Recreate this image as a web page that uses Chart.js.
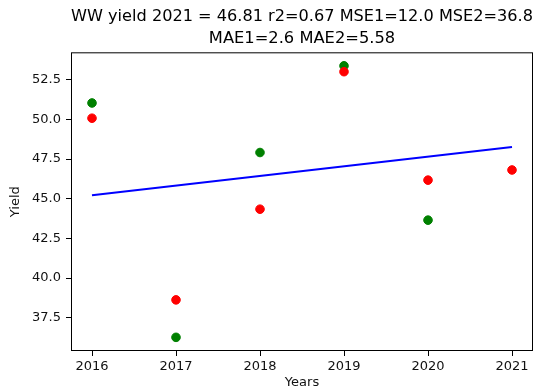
<!DOCTYPE html>
<html>
<head>
<meta charset="utf-8">
<script src="https://cdn.jsdelivr.net/npm/chart.js@4/dist/chart.umd.min.js"></script>
<style>
  html, body { margin: 0; padding: 0; background: #fff; }
  canvas { display: block; }
</style>
</head>
<body>
<canvas id="yieldChart" width="539" height="392"></canvas>
<script>
// values
const years = [2016, 2017, 2018, 2019, 2020, 2021];
const greenYears = [2016, 2017, 2018, 2019, 2020];
const greenYield = [51.03, 36.27, 47.91, 53.37, 43.65];
const redYears = [2016, 2017, 2018, 2019, 2020, 2021];
const redYield = [50.07, 38.63, 44.34, 53.0, 46.17, 46.81];
const trendYears = [2016, 2021];
const trendYield = [45.22, 48.26];
const yTicks = [37.5, 40.0, 42.5, 45.0, 47.5, 50.0, 52.5];

const toPoints = (xs, ys) => xs.map((x, i) => ({ x: x, y: ys[i] }));

// full box around the plot, like matplotlib spines
const frame = {
    id: 'frame',
    afterDraw(chart) {
        const a = chart.chartArea;
        const c = chart.ctx;
        c.save();
        c.strokeStyle = '#000';
        c.lineWidth = 1;
        c.strokeRect(a.left + 0.5, a.top + 0.5, a.right - a.left - 1, a.bottom - a.top - 1);
        c.restore();
    }
};

const font = 'DejaVu Sans';

new Chart(document.getElementById('yieldChart').getContext('2d'), {
    type: 'scatter',
    data: {
        datasets: [
            {
                label: 'red',
                data: toPoints(redYears, redYield),
                backgroundColor: '#ff0000',
                borderColor: '#ff0000',
                pointRadius: 4.3,
                order: 1
            },
            {
                label: 'green',
                data: toPoints(greenYears, greenYield),
                backgroundColor: '#008000',
                borderColor: '#008000',
                pointRadius: 4.3,
                order: 2
            },
            {
                label: 'trend',
                data: toPoints(trendYears, trendYield),
                showLine: true,
                borderColor: '#0000ff',
                borderWidth: 2,
                pointRadius: 0,
                order: 3
            }
        ]
    },
    options: {
        responsive: false,
        animation: false,
        layout: { padding: { left: 0, right: 6, top: 0, bottom: 0 } },
        plugins: {
            legend: { display: false },
            tooltip: { enabled: false },
            title: {
                display: true,
                fullSize: false,
                text: ['WW yield 2021 = 46.81 r2=0.67 MSE1=12.0 MSE2=36.8', 'MAE1=2.6 MAE2=5.58'],
                color: '#000',
                font: { family: font, size: 16.3, weight: 'normal', lineHeight: 1.39 },
                padding: { top: 5, bottom: 2 }
            }
        },
        scales: {
            x: {
                type: 'linear',
                min: 2015.75,
                max: 2021.25,
                afterBuildTicks: s => { s.ticks = years.map(v => ({ value: v })); },
                afterFit: s => { s.height = 41; },
                grid: { drawOnChartArea: false, drawTicks: true, tickLength: 5, color: '#000' },
                border: { display: false },
                ticks: {
                    color: '#111',
                    padding: 3,
                    maxRotation: 0,
                    font: { family: font, size: 13 },
                    callback: v => String(v)
                },
                title: {
                    display: true,
                    text: 'Years',
                    color: '#111',
                    font: { family: font, size: 13 },
                    padding: { top: 0, bottom: 2 }
                }
            },
            y: {
                type: 'linear',
                min: 35.41,
                max: 54.22,
                afterBuildTicks: s => { s.ticks = yTicks.map(v => ({ value: v })); },
                afterFit: s => { s.width = 71; },
                grid: { drawOnChartArea: false, drawTicks: true, tickLength: 5, color: '#000' },
                border: { display: false },
                ticks: {
                    color: '#111',
                    padding: 5,
                    font: { family: font, size: 13 },
                    callback: v => v.toFixed(1)
                },
                title: {
                    display: true,
                    text: 'Yield',
                    color: '#111',
                    font: { family: font, size: 13 },
                    padding: { top: 8, bottom: 0 }
                }
            }
        }
    },
    plugins: [frame]
});
</script>
</body>
</html>
